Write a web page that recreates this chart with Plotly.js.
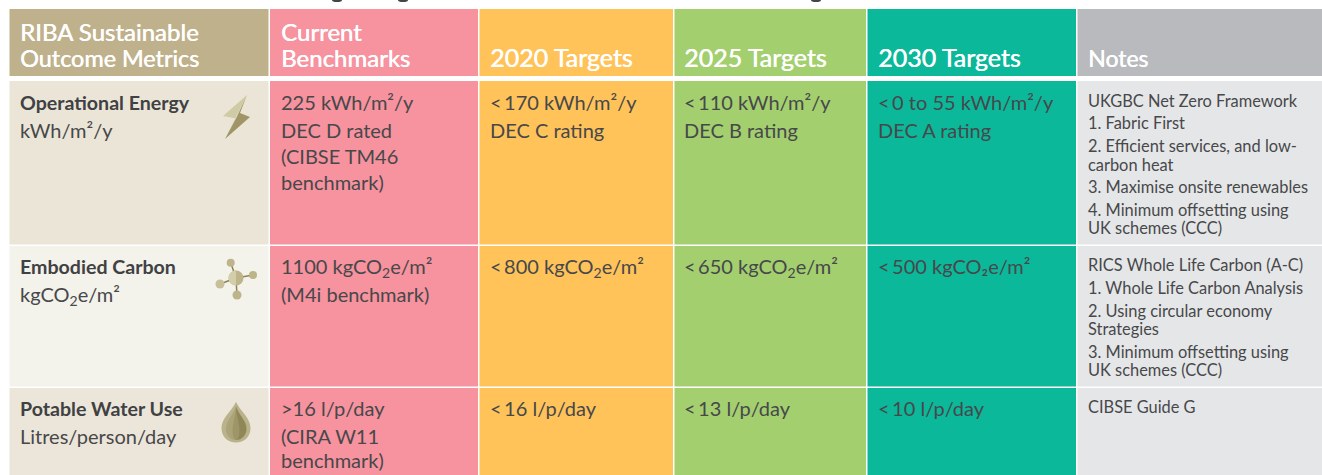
<!DOCTYPE html>
<html><head><meta charset="utf-8">
<script src="https://cdn.plot.ly/plotly-3.0.1.min.js"></script>
<style>html,body{margin:0;padding:0;background:#fff;overflow:hidden}#chart{width:1322px;height:475px}</style>
</head><body><div id="chart"></div>
<script>
// ---- table content ----
var headers = [
  ["RIBA Sustainable", "Outcome Metrics"],
  ["Current", "Benchmarks"],
  ["2020 Targets"],
  ["2025 Targets"],
  ["2030 Targets"],
  ["Notes"]
];
var metricTitles = ["Operational Energy", "Embodied Carbon", "Potable Water Use"];
var metricUnits = ["kWh/m²/y", "kgCO<sub>2</sub>e/m²", "Litres/person/day"];
var currentBenchmarks = [
  ["225 kWh/m²/y", "DEC D rated", "(CIBSE TM46", "benchmark)"],
  ["1100 kgCO<sub>2</sub>e/m²", "(M4i benchmark)"],
  [">16 l/p/day", "(CIRA W11", "benchmark)"]
];
var targets2020 = [
  ["<\u2009170 kWh/m²/y", "DEC C rating"],
  ["<\u2009800 kgCO<sub>2</sub>e/m²"],
  ["<\u200916 l/p/day"]
];
var targets2025 = [
  ["<\u2009110 kWh/m²/y", "DEC B rating"],
  ["<\u2009650 kgCO<sub>2</sub>e/m²"],
  ["<\u200913 l/p/day"]
];
var targets2030 = [
  ["<\u20090 to 55 kWh/m²/y", "DEC A rating"],
  ["<\u2009500 kgCO₂e/m²"],
  ["<\u200910 l/p/day"]
];
var notes = [
  ["UKGBC Net Zero Framework", "1. Fabric First", "2. Efficient services, and low-", "carbon heat", "3. Maximise onsite renewables", "4. Minimum offsetting using", "UK schemes (CCC)"],
  ["RICS Whole Life Carbon (A-C)", "1. Whole Life Carbon Analysis", "2. Using circular economy", "Strategies", "3. Minimum offsetting using", "UK schemes (CCC)"],
  ["CIBSE Guide G"]
];

// ---- layout of the sheet, in pixels ----
var FONT = "Lato, sans-serif";
var INK = "#47484a";
var colEdges = [[9.5,268.5],[270,478],[479.5,673],[674.5,866],[867.5,1076],[1077.5,1322]];
var rowEdges = [[9,76],[81,244.5],[246,386.5],[388,475]];
var textX = [20,281,490,684,878,1088];
var headerLineY = [[34.8,60.8],[34.8,60.8],[60.8],[60.8],[60.8],[60.8]];
var headerSizes = [[24,23.4],[24,24],[25],[25],[25],[23]];
var bodyLineY = [[105,133,159,185],[269,297],[411,439,463]];
var noteLineY = [[103,125,148,167,189,212,230],[267,290,313,331,354,372],[409]];
var colFills = [
  ["#BFB18B","#EBE5D8","#F3F2EB","#ECE5D9"],
  ["#F7929F","#F7929F","#F7929F","#F7929F"],
  ["#FFC35A","#FFC35A","#FFC35A","#FFC35A"],
  ["#A3CF6F","#A3CF6F","#A3CF6F","#A3CF6F"],
  ["#0BB89A","#0BB89A","#0BB89A","#0BB89A"],
  ["#B9BABD","#E5E6E8","#E5E6E8","#E5E6E8"]
];

// ---- cells as bars ----
var bx=[],bw=[],bb=[],bh=[],bc=[];
colEdges.forEach(function(c,i){rowEdges.forEach(function(r,j){
  bx.push((c[0]+c[1])/2);bw.push(c[1]-c[0]);bb.push(r[0]);bh.push(r[1]-r[0]);bc.push(colFills[i][j]);
});});
var traces=[{type:"bar",x:bx,y:bh,base:bb,width:bw,marker:{color:bc,line:{width:0}},hoverinfo:"skip",showlegend:false}];

function textTrace(x,ys,txt,size,color,weight,shadow){
  var f={family:FONT,size:size,color:color,weight:weight||400};
  if(shadow) f.shadow=shadow;
  traces.push({type:"scatter",mode:"text",x:ys.map(function(){return x;}),y:ys,text:txt,textposition:"middle right",
    textfont:f,hoverinfo:"skip",showlegend:false,cliponaxis:false});
}
headers.forEach(function(h,i){textTrace(textX[i],headerLineY[i],h,headerSizes[i],"#ffffff",400,"0.5px 0 0 #ffffff");});
metricTitles.forEach(function(t,r){
  textTrace(textX[0],[bodyLineY[r][0]],[t],19.6,"#404143",700);
  textTrace(textX[0],[bodyLineY[r][1]],[metricUnits[r]],20,INK,400);
});
[currentBenchmarks,targets2020,targets2025,targets2030].forEach(function(col,i){
  col.forEach(function(lines,r){textTrace(textX[i+1],bodyLineY[r].slice(0,lines.length),lines,20,INK,400);});
});
notes.forEach(function(lines,r){textTrace(textX[5],noteLineY[r],lines,16.4,INK,400);});

// ---- icons ----
function poly(d,c){return {type:"path",path:d,fillcolor:c,line:{width:0},xref:"x",yref:"y"};}
function dot(cx,cy,r,c){return {type:"circle",x0:cx-r,x1:cx+r,y0:cy-r,y1:cy+r,fillcolor:c,line:{width:0},xref:"x",yref:"y"};}
function seg(x0,y0,x1,y1){return {type:"line",x0:x0,y0:y0,x1:x1,y1:y1,line:{color:"#8E8250",width:1.5},xref:"x",yref:"y"};}
var shapes=[
  poly("M247 95 L223 116 L236 118.5 L225 139 Z","#CFCBA5"),
  poly("M247 95 L240 113 L250 117 L225 139 L236 118.5 Z","#A09566"),
  seg(236,278,230.7,262.7),seg(236,278,253,275),seg(236,278,220,284),seg(236,278,237,295),
  dot(236,278,7.5,"#BDB48A"),
  poly("M236 270.5 C232 270.5 228.5 274 228.5 278 C228.5 282 232 285.5 236 285.5 Z","#D3CEAA"),
  dot(230.7,262.7,4,"#BDB48A"),dot(253,275,4,"#BDB48A"),dot(220,284,4.5,"#C6BF98"),dot(237,295,4.5,"#BDB48A"),
  poly("M236 402 C231 412 221.5 418 221.5 428 C221.5 437 228 442.5 236 442.5 C244 442.5 250.5 437 250.5 428 C250.5 418 241 412 236 402 Z","#BAB28A"),
  poly("M236 406 C233 416 226 420 226 429 C226 435 230 440 236 440 L236 406 Z","#ABA479"),
  poly("M236 406 C239 416 246.5 420 246.5 429 C246.5 435 242 440 236 440 L236 406 Z","#8F8758"),
  poly("M236 410 C234 420 232.5 426 232.5 430 C232.5 436 234 440 236 440 C238 440 239.5 436 239.5 430 C239.5 426 238 420 236 410 Z","#9E9668"),
  // descenders of the cropped line of text above the table
  {type:"circle",x0:332,x1:342,y0:-2,y1:2,fillcolor:"#444",line:{width:0},xref:"x",yref:"y"},
  {type:"circle",x0:398,x1:408,y0:-2,y1:2,fillcolor:"#444",line:{width:0},xref:"x",yref:"y"},
  {type:"circle",x0:811,x1:821,y0:-2,y1:2,fillcolor:"#444",line:{width:0},xref:"x",yref:"y"}
];

Plotly.newPlot("chart",traces,{
  width:1322,height:475,margin:{l:0,r:0,t:0,b:0},paper_bgcolor:"#fff",plot_bgcolor:"#fff",showlegend:false,barmode:"overlay",
  xaxis:{range:[0,1322],visible:false,fixedrange:true},
  yaxis:{range:[475,0],visible:false,fixedrange:true},
  shapes:shapes
},{displayModeBar:false,staticPlot:true});
</script></body></html>
